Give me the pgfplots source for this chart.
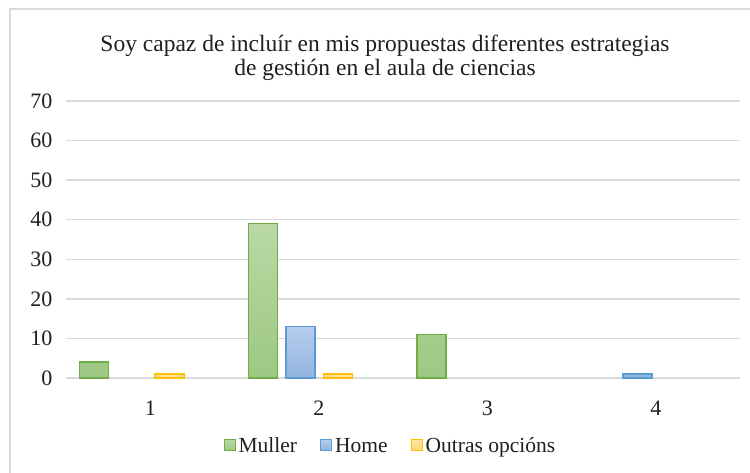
\documentclass[border=0pt]{standalone}
\usepackage{pgfplots}
\pgfplotsset{compat=1.18}
\usepackage{fontspec}
\setmainfont{Liberation Serif}
\definecolor{gridc}{HTML}{D9D9D9}
\definecolor{mulB}{HTML}{70AD47}
\definecolor{mulT}{HTML}{B9D8A6}
\definecolor{mulBo}{HTML}{9DC882}
\definecolor{homB}{HTML}{5B9BD5}
\definecolor{homT}{HTML}{B6CEEC}
\definecolor{homBo}{HTML}{92B4E0}
\definecolor{outB}{HTML}{FFC000}
\definecolor{outT}{HTML}{FFE4A6}
\definecolor{outBo}{HTML}{FFD878}
\begin{document}
\begin{tikzpicture}
\useasboundingbox (-66pt,-94pt) rectangle (684pt,378pt);
\begin{scope}
\clip (-66pt,-94pt) rectangle (684pt,378pt);
\draw[gridc, line width=1.3pt] (-56pt,-140pt) rectangle (720pt,369pt);
\end{scope}
\begin{axis}[
  at={(0pt,0pt)}, anchor=south west,
  scale only axis, width=674pt, height=277pt,
  xmin=0.5, xmax=4.5, ymin=0, ymax=70,
  xtick={1,2,3,4}, ytick={0,10,...,70},
  major tick length=0pt,
  axis line style={draw=none},
  ymajorgrids, grid style={gridc, line width=1.3pt},
  /pgf/number format/assume math mode=true,
  tick label style={font=\fontsize{22}{26}\selectfont, text=black!88},
  xticklabel style={yshift=-19pt},
  yticklabel style={xshift=-10pt},
  ybar, bar width=29pt,
  legend style={draw=none, fill=none, at={(0.482,-0.253)}, anchor=center,
    legend columns=3, font=\fontsize{21.5}{25}\selectfont, text=black!88,
    nodes={text height=0.72em, text depth=0.22em, inner xsep=3pt},
    /tikz/every even column/.append style={column sep=20pt},
    inner sep=0pt},
  legend image code/.code={\draw[#1, line width=1pt] (0pt,0pt) rectangle (11pt,11pt);},
  legend cell align=left,
]
\addplot[bar shift=-56pt, draw=mulB, line width=1.5pt, top color=mulT, bottom color=mulBo]
  coordinates {(1,4) (2,39) (3,11)};
\addplot[bar shift=-18.5pt, draw=homB, line width=1.5pt, top color=homT, bottom color=homBo]
  coordinates {(2,13) (4,1)};
\addplot[bar shift=19pt, draw=outB, line width=1.5pt, top color=outT, bottom color=outBo]
  coordinates {(1,1) (2,1)};
\legend{Muller, Home, Outras opcións}
\end{axis}
\node[align=center, font=\fontsize{23.5}{24}\selectfont, text=black!88] at (319pt,320pt)
  {Soy capaz de incluír en mis propuestas diferentes estrategias\\de gestión en el aula de ciencias};
\end{tikzpicture}
\end{document}
